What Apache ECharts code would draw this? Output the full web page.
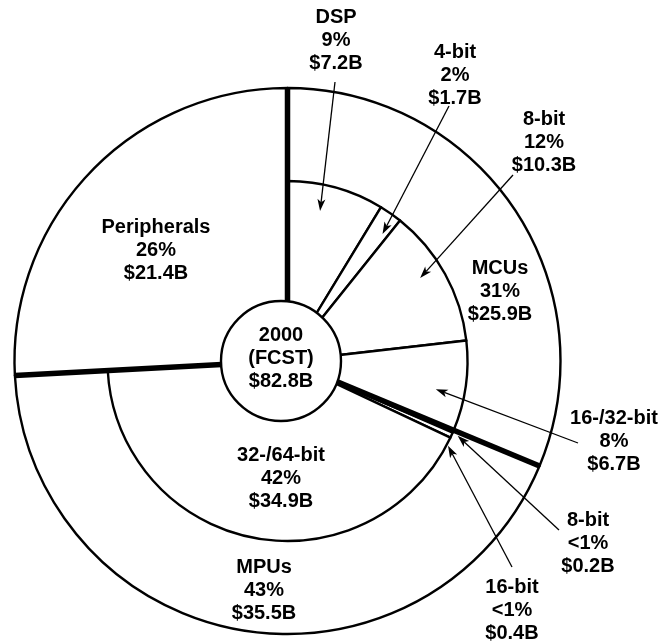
<!DOCTYPE html>
<html>
<head>
<meta charset="utf-8">
<script src="https://cdn.jsdelivr.net/npm/echarts@6/dist/echarts.min.js"></script>
<style>
  html, body { margin: 0; padding: 0; background: #fff; }
  #main { width: 660px; height: 644px; }
</style>
</head>
<body>
<div id="main"></div>
<script>
// Microcontroller / microprocessor / peripheral market, 2000 forecast, in $B
const groupNames  = ['MCUs', 'MPUs', 'Peripherals'];
const groupValues = [25.9, 35.5, 21.4];
const groupShares = ['31%', '43%', '26%'];

const partNames  = ['DSP', '4-bit', '8-bit', '16-/32-bit', '8-bit', '16-bit', '32-/64-bit'];
const partGroups = ['MCUs', 'MCUs', 'MCUs', 'MCUs', 'MPUs', 'MPUs', 'MPUs'];
const partValues = [7.2, 1.7, 10.3, 6.7, 0.2, 0.4, 34.9];
const partShares = ['9%', '2%', '12%', '8%', '<1%', '<1%', '42%'];

const centerTitle = ['2000', '(FCST)'];

// ---- layout -------------------------------------------------------------
const CX = 287.5, CY = 361;          // ring centre
const R_OUT = 273, R_MID = 180;      // outer ring / breakdown ring radii
const CORE_CX = 281, R_CORE = 60;    // centre disc
const FONT = 'bold 20px "Liberation Sans", Arial, sans-serif';
const LINE_H = 23;
const THIN = 2.4, THICK = 5.5;

// label anchors for the group names and the large breakdown slice
const groupLabelAt = { 'MCUs': [500, 291], 'MPUs': [264, 590], 'Peripherals': [156, 250] };
const plainPartLabelAt = { 6: [281, 478] };
// call-outs: label anchor, arrow tail, arrow tip in polar terms (radius fraction, degrees off slice middle)
const callouts = [
  { part: 0, at: [336, 40],  tail: [335, 82],  tipR: 0.562, tipShift: -3.4 },
  { part: 1, at: [455, 75],  tail: [449, 106], tipR: 0.581, tipShift: 1.8 },
  { part: 2, at: [544, 142], tail: [513, 175], tipR: 0.573, tipShift: -3.1 },
  { part: 3, at: [614, 441], tail: [578, 443], tipR: 0.553, tipShift: 2.7 },
  { part: 4, at: [588, 543], tail: [559, 530], tipR: 0.681, tipShift: 0.7 },
  { part: 5, at: [512, 610], tail: [512, 567], tipR: 0.665, tipShift: 3.5 }
];

const total = groupValues.reduce((a, b) => a + b, 0);
const money = v => '$' + v.toFixed(1) + 'B';

// cumulative boundaries between the main groups (angle-axis values)
const groupBounds = [];
let acc = 0;
groupValues.forEach(v => { groupBounds.push(acc); acc += v; });

// middle of every breakdown slice along the angle axis
const partMid = [];
acc = 0;
partValues.forEach(v => { partMid.push(acc + v / 2); acc += v; });

const chart = echarts.init(document.getElementById('main'), null, { renderer: 'canvas' });

const sliceStyle = { color: '#fff', borderColor: '#000', borderWidth: THIN };

const outerRing = {
  type: 'pie', z: 2, silent: true, animation: false,
  center: [CX, CY], radius: [0, R_OUT], startAngle: 90, clockwise: true,
  label: { show: false }, labelLine: { show: false }, emphasis: { disabled: true },
  itemStyle: sliceStyle,
  data: groupNames.map((n, i) => ({ name: n, value: groupValues[i] }))
};

// breakdown ring: Peripherals has no breakdown, so its share is left open
const partData = partNames.map((n, i) => ({ name: partGroups[i] + ' ' + n, value: partValues[i] }));
groupNames.forEach((g, i) => {
  if (!partGroups.includes(g)) {
    partData.push({ name: g, value: groupValues[i],
      itemStyle: { color: 'rgba(0,0,0,0)', borderWidth: 0 } });
  }
});
const middleRing = {
  type: 'pie', z: 3, silent: true, animation: false,
  center: [CX, CY], radius: [0, R_MID], startAngle: 90, clockwise: true,
  label: { show: false }, labelLine: { show: false }, emphasis: { disabled: true },
  itemStyle: sliceStyle,
  data: partData
};

// heavy dividers between the main groups
const dividers = groupBounds.map(b => ({
  type: 'line', coordinateSystem: 'polar', polarIndex: 0, z: 4,
  silent: true, animation: false, symbol: 'none',
  lineStyle: { color: '#000', width: THICK, cap: 'butt' },
  data: [[0, b], [1, b]]
}));

const core = {
  type: 'pie', z: 5, silent: true, animation: false,
  center: [CORE_CX, CY], radius: [0, R_CORE],
  label: { show: false }, labelLine: { show: false }, emphasis: { disabled: true },
  itemStyle: sliceStyle,
  data: [{ name: 'total', value: total }]
};

chart.setOption({
  backgroundColor: '#fff',
  animation: false,
  polar: { center: [CX, CY], radius: R_OUT },
  angleAxis: { type: 'value', min: 0, max: total, startAngle: 90, clockwise: true, show: false },
  radiusAxis: { type: 'value', min: 0, max: 1, show: false },
  series: [outerRing, middleRing].concat(dividers, [core])
});

function textEl(lines, at) {
  return {
    type: 'text', x: at[0], y: at[1], z: 10, silent: true,
    style: {
      text: lines.join('\n'), font: FONT, fill: '#000', lineHeight: LINE_H,
      align: 'center', verticalAlign: 'middle',
      textAlign: 'center', textVerticalAlign: 'middle'
    }
  };
}

function polarPoint(r, a) {
  let p = null;
  try { p = chart.convertToPixel({ polarIndex: 0 }, [r, a]); } catch (e) { p = null; }
  if (!p) {
    const ang = (90 - a / total * 360) * Math.PI / 180;
    p = [CX + r * R_OUT * Math.cos(ang), CY - r * R_OUT * Math.sin(ang)];
  }
  return p;
}

function arrowEls(tail, tip) {
  const dx = tip[0] - tail[0], dy = tip[1] - tail[1];
  const len = Math.hypot(dx, dy);
  const ux = dx / len, uy = dy / len, px = -uy, py = ux;
  const L = 12, W = 4, N = 9;
  const bx = tip[0] - ux * L, by = tip[1] - uy * L;
  const notch = [tip[0] - ux * N, tip[1] - uy * N];
  return [
    { type: 'line', z: 9, silent: true,
      shape: { x1: tail[0], y1: tail[1], x2: notch[0], y2: notch[1] },
      style: { stroke: '#000', lineWidth: 1.3 } },
    { type: 'polygon', z: 9, silent: true,
      shape: { points: [tip, [bx + px * W, by + py * W], notch, [bx - px * W, by - py * W]] },
      style: { fill: '#000' } }
  ];
}

const graphics = [];
graphics.push(textEl(centerTitle.concat([money(total)]), [CORE_CX, 358]));
groupNames.forEach((g, i) => {
  graphics.push(textEl([g, groupShares[i], money(groupValues[i])], groupLabelAt[g]));
});
Object.keys(plainPartLabelAt).forEach(k => {
  const i = +k;
  graphics.push(textEl([partNames[i], partShares[i], money(partValues[i])], plainPartLabelAt[k]));
});
callouts.forEach(c => {
  const i = c.part;
  graphics.push(textEl([partNames[i], partShares[i], money(partValues[i])], c.at));
  const tip = polarPoint(c.tipR, partMid[i] + c.tipShift / 360 * total);
  arrowEls(c.tail, tip).forEach(e => graphics.push(e));
});

chart.setOption({ graphic: { elements: graphics } });
</script>
</body>
</html>
